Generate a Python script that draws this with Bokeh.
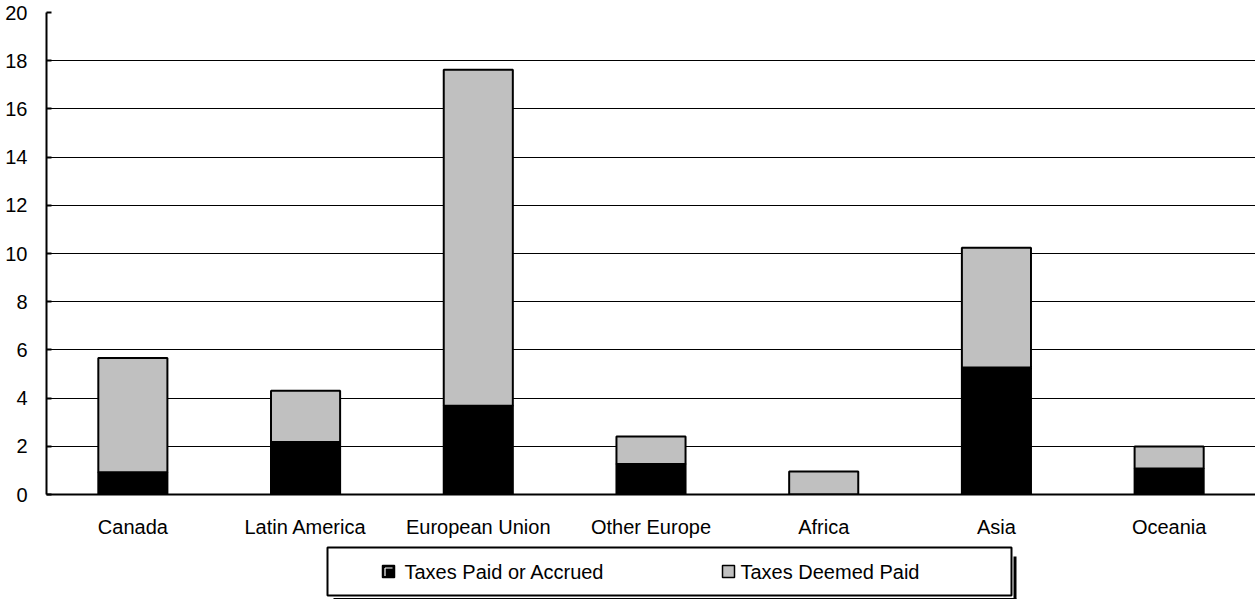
from bokeh.plotting import figure
from bokeh.layouts import column
from bokeh.models import FactorRange, Range1d, SingleIntervalTicker, ColumnDataSource
from bokeh.core.properties import value
from bokeh.embed import file_html
from bokeh.resources import INLINE

regions = ["Canada", "Latin America", "European Union", "Other Europe", "Africa", "Asia", "Oceania"]
taxes_paid = [0.92, 2.18, 3.68, 1.27, 0.0, 5.27, 1.08]
taxes_deemed = [4.74, 2.13, 13.94, 1.14, 0.95, 4.97, 0.91]
series_names = ["Taxes Paid or Accrued", "Taxes Deemed Paid"]
series_colors = ["#000000", "#C0C0C0"]
y_max = 20
y_step = 2

FONT = "Liberation Sans"
W = 1255
LEFT = 46
MAIN_H = 540

src = ColumnDataSource(dict(region=regions, paid=taxes_paid, deemed=taxes_deemed))

p = figure(x_range=FactorRange(factors=regions, range_padding=0),
           y_range=Range1d(0, y_max),
           width=W, height=MAIN_H, output_backend="svg", toolbar_location=None,
           min_border_left=LEFT, min_border_right=0, min_border_top=12, min_border_bottom=46)

p.vbar_stack(["paid", "deemed"], x="region", width=0.4, source=src,
             fill_color=series_colors, line_color="black", line_width=2)

p.outline_line_color = None
p.background_fill_color = "white"
p.xgrid.grid_line_color = None
p.ygrid.grid_line_color = "black"
p.ygrid.grid_line_width = 1
p.yaxis.ticker = SingleIntervalTicker(interval=y_step)
p.yaxis.minor_tick_line_color = None
p.yaxis.major_tick_in = 5
p.yaxis.major_tick_out = 0
p.yaxis.major_tick_line_width = 2
p.yaxis.major_tick_line_color = "black"
p.yaxis.axis_line_width = 2
p.yaxis.axis_line_color = "black"
p.yaxis.major_label_standoff = 15
p.xaxis.axis_line_width = 2
p.xaxis.axis_line_color = "black"
p.xaxis.major_tick_line_color = None
p.xaxis.major_tick_in = 0
p.xaxis.major_tick_out = 0
p.xaxis.major_label_standoff = 21
for ax in (p.xaxis, p.yaxis):
    ax.major_label_text_font = FONT
    ax.major_label_text_font_size = "20px"
    ax.major_label_text_color = "black"

# Legend panel (coordinates expressed in layout pixels)
LG_H = 59
lg = figure(x_range=Range1d(LEFT, W), y_range=Range1d(MAIN_H + LG_H, MAIN_H),
            width=W, height=LG_H, output_backend="svg", toolbar_location=None,
            x_axis_location=None, y_axis_location=None,
            min_border_left=LEFT, min_border_right=0, min_border_top=0, min_border_bottom=0)
lg.grid.visible = False
lg.outline_line_color = None

box_l, box_r, box_t, box_b = 327, 1011, 547, 595
# shadow
lg.segment(x0=[box_r + 3.5], y0=[box_t + 9], x1=[box_r + 3.5], y1=[box_b + 3],
           line_color="black", line_width=3)
lg.segment(x0=[box_l + 6], y0=[box_b + 3.2], x1=[box_r + 5], y1=[box_b + 3.2],
           line_color="black", line_width=1.5)
# box
lg.quad(left=[box_l], right=[box_r], top=[box_t], bottom=[box_b], fill_color="white",
        line_color="black", line_width=2)
cy = (box_t + box_b) / 2
# markers
lg.quad(left=[382, 722], right=[394, 734], top=[cy - 6, cy - 6], bottom=[cy + 6, cy + 6],
        fill_color=series_colors, line_color="black", line_width=1.5)
lg.segment(x0=[384.5, 384.5], y0=[cy + 4.5, cy - 3.5], x1=[384.5, 392], y1=[cy - 3.5, cy - 3.5],
           line_color="white", line_width=1.2)
lg.text(x=[404, 740], y=[cy + 0.5, cy + 0.5], text=series_names, text_font=value(FONT),
        text_font_size="20px", text_baseline="middle", text_align="left", text_color="black")

layout = column(p, lg, spacing=0)
open("out.html", "w").write(file_html(layout, INLINE))
